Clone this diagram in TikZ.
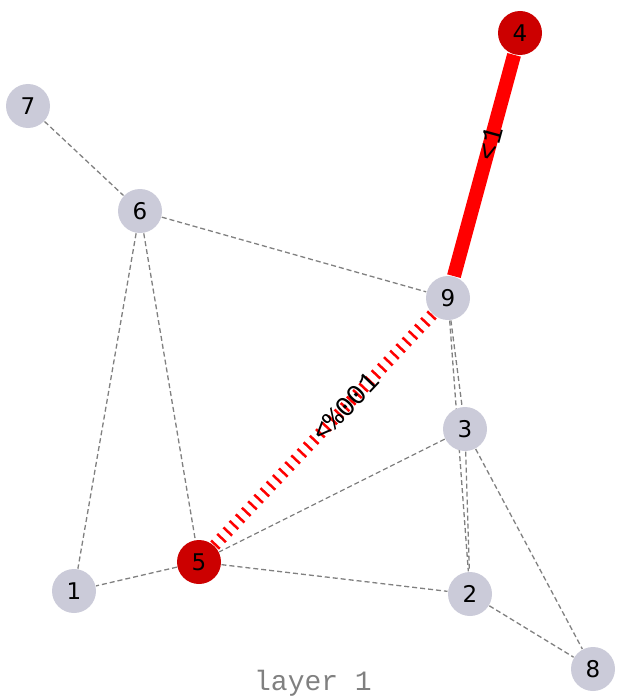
\documentclass[tikz,border=0pt]{standalone}
\usepackage{fontspec}
\setmainfont{DejaVu Sans}
\setmonofont{Liberation Mono}
\usetikzlibrary{backgrounds}
\definecolor{nodegray}{RGB}{203,203,217}
\definecolor{hotred}{RGB}{204,0,0}
\definecolor{edgegray}{RGB}{128,128,128}

\begin{document}
\begin{tikzpicture}[x=1pt, y=-1pt, line width=1.3pt]

\tikzstyle{vertex} = [circle, fill=nodegray, minimum size=44pt, inner sep=0pt, font=\fontsize{23}{23}\selectfont]
\tikzstyle{hot} = [vertex, fill=hotred]
\tikzstyle{link} = [draw=edgegray, dash pattern=on 5pt off 3pt, line width=1.3pt]
\tikzstyle{pathedge} = [draw=red, line width=14pt]
\tikzstyle{stripedge} = [draw=red, line width=12pt, dash pattern=on 2.5pt off 6.5pt]
\tikzstyle{edgelabel} = [font=\ttfamily\fontsize{28}{28}\selectfont, sloped, pos=0.6, inner sep=0pt]
\useasboundingbox (0,0) rectangle (617,698);

\node (v4) [hot] at (520,33) {4};
\node (v7) [vertex] at (28,106) {7};
\node (v6) [vertex] at (140,211) {6};
\node (v9) [vertex] at (448,298) {9};
\node (v3) [vertex] at (465,429) {3};
\node (v5) [hot] at (199,562) {5};
\node (v1) [vertex] at (74,591) {1};
\node (v2) [vertex] at (470,594) {2};
\node (v8) [vertex] at (593,669) {8};
\node (caption) [font=\ttfamily\fontsize{28}{28}\selectfont, text=edgegray] at (313,683) {layer 1};

\begin{scope}[on background layer]
\draw [link] (v7) -- (v6);
\draw [link] (v6) -- (v9);
\draw [link] (v6) -- (v1);
\draw [link] (v6) -- (v5);
\draw [link] (v9) -- (v3);
\draw [link] (v9) -- (v2);
\draw [link] (v3) -- (v2);
\draw [link] (v3) -- (v5);
\draw [link] (v3) -- (v8);
\draw [link] (v5) -- (v1);
\draw [link] (v5) -- (v2);
\draw [link] (v2) -- (v8);
\draw [pathedge] (v9) -- node [edgelabel] {<1} (v4);
\draw [stripedge] (v5) -- node [edgelabel] {<\%001} (v9);
\end{scope}

\end{tikzpicture}
\end{document}
